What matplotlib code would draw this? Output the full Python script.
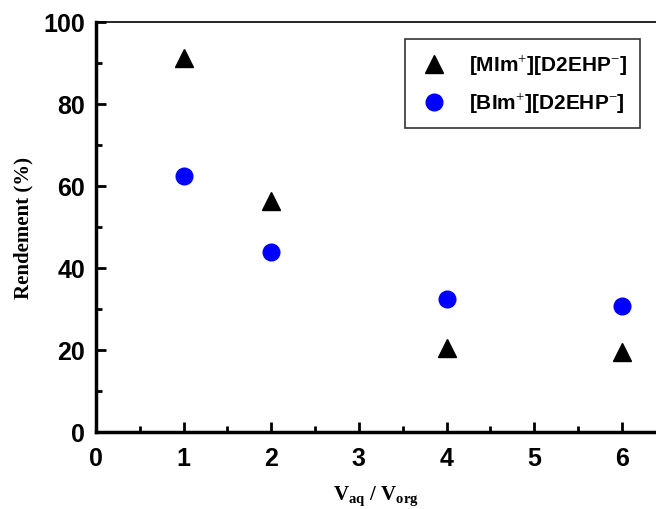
import matplotlib
matplotlib.use("Agg")
import matplotlib.pyplot as plt
from matplotlib.ticker import MultipleLocator

# Data
ratio = [1, 2, 4, 6]
mim_yield = [91.2, 56.3, 20.5, 19.5]
bim_yield = [62.4, 43.9, 32.4, 30.7]

plt.rcParams['mathtext.fontset'] = 'custom'
plt.rcParams['mathtext.bf'] = 'Liberation Serif:bold'
plt.rcParams['mathtext.rm'] = 'Liberation Serif'

fig = plt.figure(figsize=(6.56, 5.10), dpi=100)
# axes runs past the right edge of the picture, as in the cropped original
ax = fig.add_axes([96 / 656, 77 / 510, 560 / 656, 410 / 510])

ax.plot(ratio, mim_yield, linestyle='none', marker='^', color='black',
        markersize=13, label='[MIm$^{+}$][D2EHP$^{-}$]')
ax.plot(ratio, bim_yield, linestyle='none', marker='o', color='blue',
        markersize=12, label='[BIm$^{+}$][D2EHP$^{-}$]')

ax.set_xlim(0, 6.39)
ax.set_ylim(0, 100)
ax.xaxis.set_major_locator(MultipleLocator(1))
ax.xaxis.set_minor_locator(MultipleLocator(0.5))
ax.yaxis.set_major_locator(MultipleLocator(20))
ax.yaxis.set_minor_locator(MultipleLocator(10))
ax.tick_params(which='both', direction='in', top=False, right=False)
ax.tick_params(which='major', length=7, width=2)
ax.tick_params(which='minor', length=4, width=2)
ax.tick_params(axis='x', pad=10)
ax.tick_params(axis='y', pad=8)

for lab in ax.get_xticklabels() + ax.get_yticklabels():
    lab.set_family('Liberation Sans')
    lab.set_fontweight('bold')
    lab.set_fontsize(18)

ax.spines['left'].set_linewidth(2.5)
ax.spines['bottom'].set_linewidth(2.5)
ax.spines['top'].set_linewidth(1.2)
ax.spines['right'].set_visible(False)

ax.set_xlabel(r'V$_{\mathbf{aq}}$ / V$_{\mathbf{org}}$', fontfamily='Liberation Serif',
              fontweight='bold', fontsize=15, labelpad=10)
ax.set_ylabel('Rendement (%)', fontfamily='Liberation Serif',
              fontweight='bold', fontsize=15)
ax.yaxis.set_label_coords((33 - 96) / 560, 0.5)

leg = ax.legend(loc='upper right', bbox_to_anchor=((640 - 96) / 560, (433 - 40) / 410),
                borderaxespad=0,
                prop={'family': 'Liberation Sans', 'weight': 'bold', 'size': 15},
                fancybox=False, edgecolor='black', handletextpad=0.9,
                handlelength=1.6, borderpad=0.6, labelspacing=0.6)
leg.get_frame().set_linewidth(1.2)

fig.savefig('out.png', dpi=100)
